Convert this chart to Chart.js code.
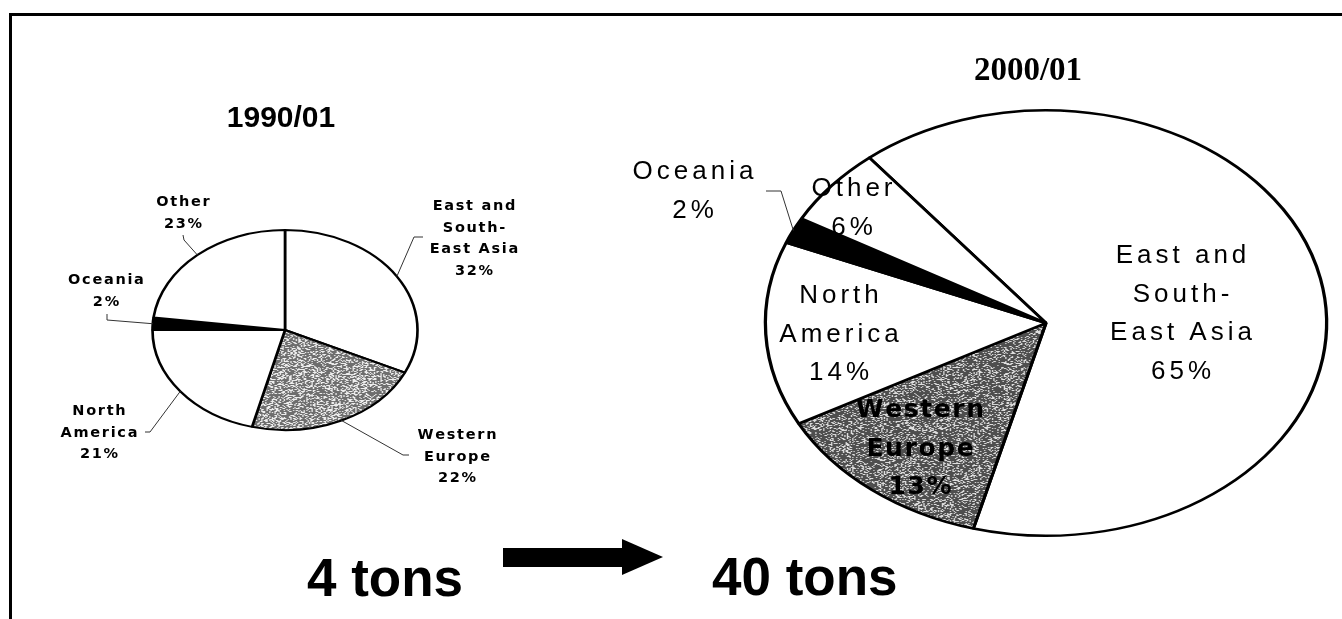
<!DOCTYPE html>
<html>
<head>
<meta charset="utf-8">
<script src="https://cdn.jsdelivr.net/npm/chart.js@4.4.1/dist/chart.umd.min.js"></script>
<style>
  html, body { margin: 0; padding: 0; background: #fff; }
  body { width: 1342px; height: 619px; position: relative; overflow: hidden; font-family: "Liberation Sans", Arial, sans-serif; }
  .frame { position: absolute; left: 9px; top: 13px; right: 0; bottom: 0; border-top: 3px solid #000; border-left: 3px solid #000; }
  canvas { position: absolute; top: 0; }
  #pie1990 { left: 0; }
  #pie2000 { left: 600px; }
  .txt { position: absolute; line-height: 1; white-space: nowrap; color: #000; }
  #title1990 { left: 181px; width: 200px; top: 100px; text-align: center; font: bold 30px "Liberation Sans", Arial, sans-serif; }
  #title2000 { left: 928px; width: 200px; top: 51px; text-align: center; font: bold 33px "Liberation Serif", "Times New Roman", serif; }
  #tons1990 { left: 307px; top: 547px; font: bold 53px "Liberation Sans", Arial, sans-serif; }
  #tons2000 { left: 712px; top: 546px; font: bold 53px "Liberation Sans", Arial, sans-serif; }
  .shaft { position: absolute; left: 503px; top: 548px; width: 120px; height: 19px; background: #000; }
  .head { position: absolute; left: 622px; top: 539px; width: 0; height: 0; border-left: 41px solid #000; border-top: 18.5px solid transparent; border-bottom: 18.5px solid transparent; }
</style>
</head>
<body>
<div class="frame"></div>
<canvas id="pie1990" width="600" height="619"></canvas>
<canvas id="pie2000" width="742" height="619"></canvas>
<div class="txt" id="title1990"></div>
<div class="txt" id="title2000"></div>
<div class="txt" id="tons1990"></div>
<div class="txt" id="tons2000"></div>
<div class="shaft"></div>
<div class="head"></div>
<script>
// data
const regions = [['East and', 'South-', 'East Asia'], ['Western', 'Europe'], ['North', 'America'], ['Oceania'], ['Other']];
const share1990 = [32, 22, 21, 2, 23];
const share2000 = [65, 13, 14, 2, 6];
const years = ['1990/01', '2000/01'];
const tonnage = ['4 tons', '40 tons'];

document.getElementById('title1990').textContent = years[0];
document.getElementById('title2000').textContent = years[1];
document.getElementById('tons1990').textContent = tonnage[0];
document.getElementById('tons2000').textContent = tonnage[1];

// grey speckle fill (fixed hash, just a texture)
function stipple(density, light, dark) {
    const size = 96;
    const c = document.createElement('canvas');
    c.width = c.height = size;
    const g = c.getContext('2d');
    const img = g.createImageData(size, size);
    for (let i = 0; i < size * size; i++) {
        let h = Math.imul(i + 1, 2654435761) >>> 0;
        h ^= h >>> 15;
        h = Math.imul(h, 2246822519) >>> 0;
        h ^= h >>> 13;
        const col = (h % 1000) / 1000 < density ? dark : light;
        img.data[i * 4] = img.data[i * 4 + 1] = img.data[i * 4 + 2] = col;
        img.data[i * 4 + 3] = 255;
    }
    g.putImageData(img, 0, 0);
    return g.createPattern(c, 'repeat');
}

// squash the round pie into an ellipse
const ellipsePlugin = {
    id: 'ellipse',
    beforeDatasetsDraw(chart, args, opts) {
        const { ctx, chartArea } = chart;
        const cx = (chartArea.left + chartArea.right) / 2;
        const cy = (chartArea.top + chartArea.bottom) / 2;
        ctx.save();
        ctx.translate(cx, cy);
        ctx.scale(opts.sx, 1);
        ctx.translate(-cx, -cy);
    },
    afterDatasetsDraw(chart) {
        chart.ctx.restore();
    }
};

function drawSpaced(ctx, text, cx, y, spacing) {
    const chars = [...text];
    const widths = chars.map(ch => ctx.measureText(ch).width);
    const total = widths.reduce((a, b) => a + b, 0) + spacing * (chars.length - 1);
    let x = cx - total / 2;
    chars.forEach((ch, i) => {
        ctx.fillText(ch, x, y);
        x += widths[i] + spacing;
    });
}

const labelPlugin = {
    id: 'sliceLabels',
    afterDraw(chart, args, opts) {
        const ctx = chart.ctx;
        const meta = chart.getDatasetMeta(0);
        const values = chart.data.datasets[0].data;
        const sx = chart.options.plugins.ellipse.sx;
        ctx.save();
        ctx.fillStyle = '#000';
        ctx.textBaseline = 'alphabetic';
        ctx.textAlign = 'left';
        meta.data.forEach((arc, i) => {
            const pos = opts.layout[i];
            const p = arc.getProps(['x', 'y', 'startAngle', 'endAngle', 'outerRadius'], true);
            if (pos.leader) {
                const mid = (p.startAngle + p.endAngle) / 2;
                const ex = p.x + sx * p.outerRadius * Math.cos(mid);
                const ey = p.y + p.outerRadius * Math.sin(mid);
                ctx.strokeStyle = '#333';
                ctx.lineWidth = 1;
                ctx.beginPath();
                ctx.moveTo(pos.leader[0][0] - opts.offsetX, pos.leader[0][1]);
                pos.leader.slice(1).forEach(pt => ctx.lineTo(pt[0] - opts.offsetX, pt[1]));
                ctx.lineTo(ex, ey);
                ctx.stroke();
            }
            const f = pos.font || opts.font;
            ctx.font = f.css;
            const lines = chart.data.labels[i].concat([values[i] + '%']);
            lines.forEach((line, k) => {
                drawSpaced(ctx, line, pos.x - opts.offsetX, pos.y + k * opts.lineHeight, f.spacing);
            });
        });
        ctx.restore();
    }
};

const heavySmall = { css: 'bold 14.5px "DejaVu Sans", sans-serif', spacing: 1.7 };
const plainBig = { css: '26px "Liberation Sans", Arial, sans-serif', spacing: 4 };
const heavyBig = { css: 'bold 25px "DejaVu Sans", sans-serif', spacing: 1.6 };

const fills1990 = ['#fff', stipple(0.26, 238, 110), '#fff', '#000', '#fff'];
const fills2000 = ['#fff', stipple(0.42, 222, 78), '#fff', '#000', '#fff'];

new Chart(document.getElementById('pie1990'), {
    type: 'pie',
    data: {
        labels: regions,
        datasets: [{ data: share1990, backgroundColor: fills1990, borderColor: '#000', borderWidth: 2 }]
    },
    options: {
        responsive: false,
        animation: false,
        rotation: 0,
        events: [],
        layout: { padding: { left: 184, right: 214, top: 229, bottom: 188 } },
        plugins: {
            legend: { display: false },
            tooltip: { enabled: false },
            ellipse: { sx: 1.325 },
            sliceLabels: {
                offsetX: 0, font: heavySmall, lineHeight: 21.7,
                layout: [
                    { x: 474, y: 210, leader: [[423, 237], [414, 237]] },
                    { x: 457, y: 439, leader: [[409, 455], [403, 455]] },
                    { x: 99, y: 415, leader: [[145, 432], [150, 432]] },
                    { x: 106, y: 284, leader: [[107, 314], [107, 320]] },
                    { x: 183, y: 206, leader: [[183, 235], [184, 240]] }
                ]
            }
        }
    },
    plugins: [ellipsePlugin, labelPlugin]
});

new Chart(document.getElementById('pie2000'), {
    type: 'pie',
    data: {
        labels: regions,
        datasets: [{ data: share2000, backgroundColor: fills2000, borderColor: '#000', borderWidth: 2.5 }]
    },
    options: {
        responsive: false,
        animation: false,
        rotation: -39,
        events: [],
        layout: { padding: { left: 232, right: 82, top: 109, bottom: 82 } },
        plugins: {
            legend: { display: false },
            tooltip: { enabled: false },
            ellipse: { sx: 1.319 },
            sliceLabels: {
                offsetX: 600, font: plainBig, lineHeight: 38.5,
                layout: [
                    { x: 1181, y: 263 },
                    { x: 920, y: 417, font: heavyBig },
                    { x: 839, y: 303 },
                    { x: 693, y: 179, leader: [[766, 191], [781, 191]] },
                    { x: 852, y: 196 }
                ]
            }
        }
    },
    plugins: [ellipsePlugin, labelPlugin]
});
</script>
</body>
</html>
